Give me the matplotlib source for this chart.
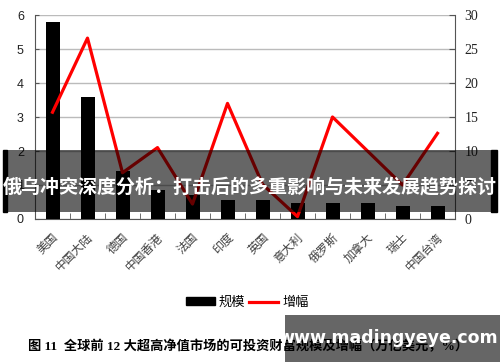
import numpy as np
import matplotlib.pyplot as plt
from matplotlib.patches import Rectangle, Patch
from matplotlib.lines import Line2D

plt.rcParams["font.family"] = ["Liberation Sans", "Noto Sans CJK SC"]

# ---------------- DATA ----------------
markets = ['美国', '中国大陆', '德国', '中国香港', '法国', '印度',
           '英国', '意大利', '俄罗斯', '加拿大', '瑞士', '中国台湾']
scale = [5.8, 3.6, 1.4, 0.85, 0.7, 0.57, 0.57, 0.48, 0.48, 0.48, 0.38, 0.38]
growth = [15.7, 26.6, 6.8, 10.5, 2.2, 17.0, 5.1, 0.35, 15.0, 10.0, 5.0, 12.6]

W, H = 500, 362
def fx(x):
    return x / W
def fy(y):
    return 1 - y / H

x = np.arange(len(markets))

# ---------------- PLOT ----------------
fig = plt.figure(figsize=(5, 3.62), dpi=100)
ax = fig.add_axes([fx(35), fy(219), fx(455) - fx(35), fy(15) - fy(219)])

ax.bar(x, scale, width=0.4, color='black', zorder=3)
ax.set_xlim(-0.5, len(markets) - 0.5)
ax.set_ylim(0, 6)
ax.set_yticks(range(0, 7))
ax.yaxis.grid(True, color='#bbbbbb', linewidth=1)
ax.set_axisbelow(True)

ax.set_xticks(x)
ax.set_xticklabels(markets, rotation=45, ha='right', rotation_mode='anchor',
                   fontsize=8.5, color='#404040')
ax.set_xticks(np.arange(-0.5, len(markets)), minor=True)
ax.tick_params(axis='x', which='major', length=0, pad=9)
ax.tick_params(axis='x', which='minor', direction='in', length=4, color='#555555')
ax.tick_params(axis='y', direction='in', length=3, color='#555555',
               labelsize=9, labelcolor='#222222', pad=8)

for s in ['left', 'bottom']:
    ax.spines[s].set_color('#555555')
ax.spines['top'].set_visible(False)
ax.spines['right'].set_visible(False)

ax2 = ax.twinx()
ax2.plot(x, growth, color='red', linewidth=2.3, zorder=4)
ax2.set_ylim(0, 30)
ax2.set_yticks(range(0, 31, 5))
ax2.set_yticklabels([str(v) for v in range(0, 31, 5)],
                    family='Liberation Serif', fontsize=10, color='#222222')
ax2.tick_params(axis='y', direction='in', length=4, color='#555555', pad=7)
ax2.spines['right'].set_color('#555555')
for s in ['top', 'left', 'bottom']:
    ax2.spines[s].set_visible(False)

# legend
handles = [Patch(facecolor='black', edgecolor='black'),
           Line2D([0], [0], color='red', linewidth=2.3)]
fig.legend(handles, ['规模', '增幅'], loc='center', bbox_to_anchor=(fx(247), fy(303)),
           ncol=2, frameon=False, fontsize=9.5, handlelength=2.2, handleheight=0.55,
           columnspacing=0.3, handletextpad=0.3)

# caption
fig.text(fx(28), fy(347), '图 11  全球前 12 大超高净值市场的可投资财富规模及增幅（万亿美元，%）',
         family=['Liberation Serif', 'Noto Sans CJK SC'], fontweight='bold',
         fontsize=9.5, ha='left', va='center', color='black')

# banner overlay
fig.add_artist(Rectangle((fx(3), fy(212)), fx(4), fy(150) - fy(212),
                         transform=fig.transFigure, color='black', zorder=10))
fig.add_artist(Rectangle((fx(491), fy(212)), fx(6), fy(150) - fy(212),
                         transform=fig.transFigure, color='black', zorder=10))
fig.add_artist(Rectangle((fx(7), fy(212)), fx(484), fy(150) - fy(212),
                         transform=fig.transFigure, facecolor='black', alpha=0.6,
                         edgecolor='none', zorder=10))
fig.text(fx(250), fy(188), '俄乌冲突深度分析：打击后的多重影响与未来发展趋势探讨',
         family='Noto Sans CJK SC', fontweight='bold', fontsize=13.7,
         color='white', ha='center', va='center', zorder=11)

# watermark
fig.add_artist(Rectangle((fx(285), 0), fx(215), fy(315),
                         transform=fig.transFigure, facecolor='black', alpha=0.6,
                         edgecolor='none', zorder=10))
fig.text(fx(388), fy(338), 'www.madingyeye.com', family='DejaVu Sans',
         fontweight='bold', fontsize=12.5, color='white',
         ha='center', va='center', zorder=11)

fig.savefig('out.png', dpi=100)
